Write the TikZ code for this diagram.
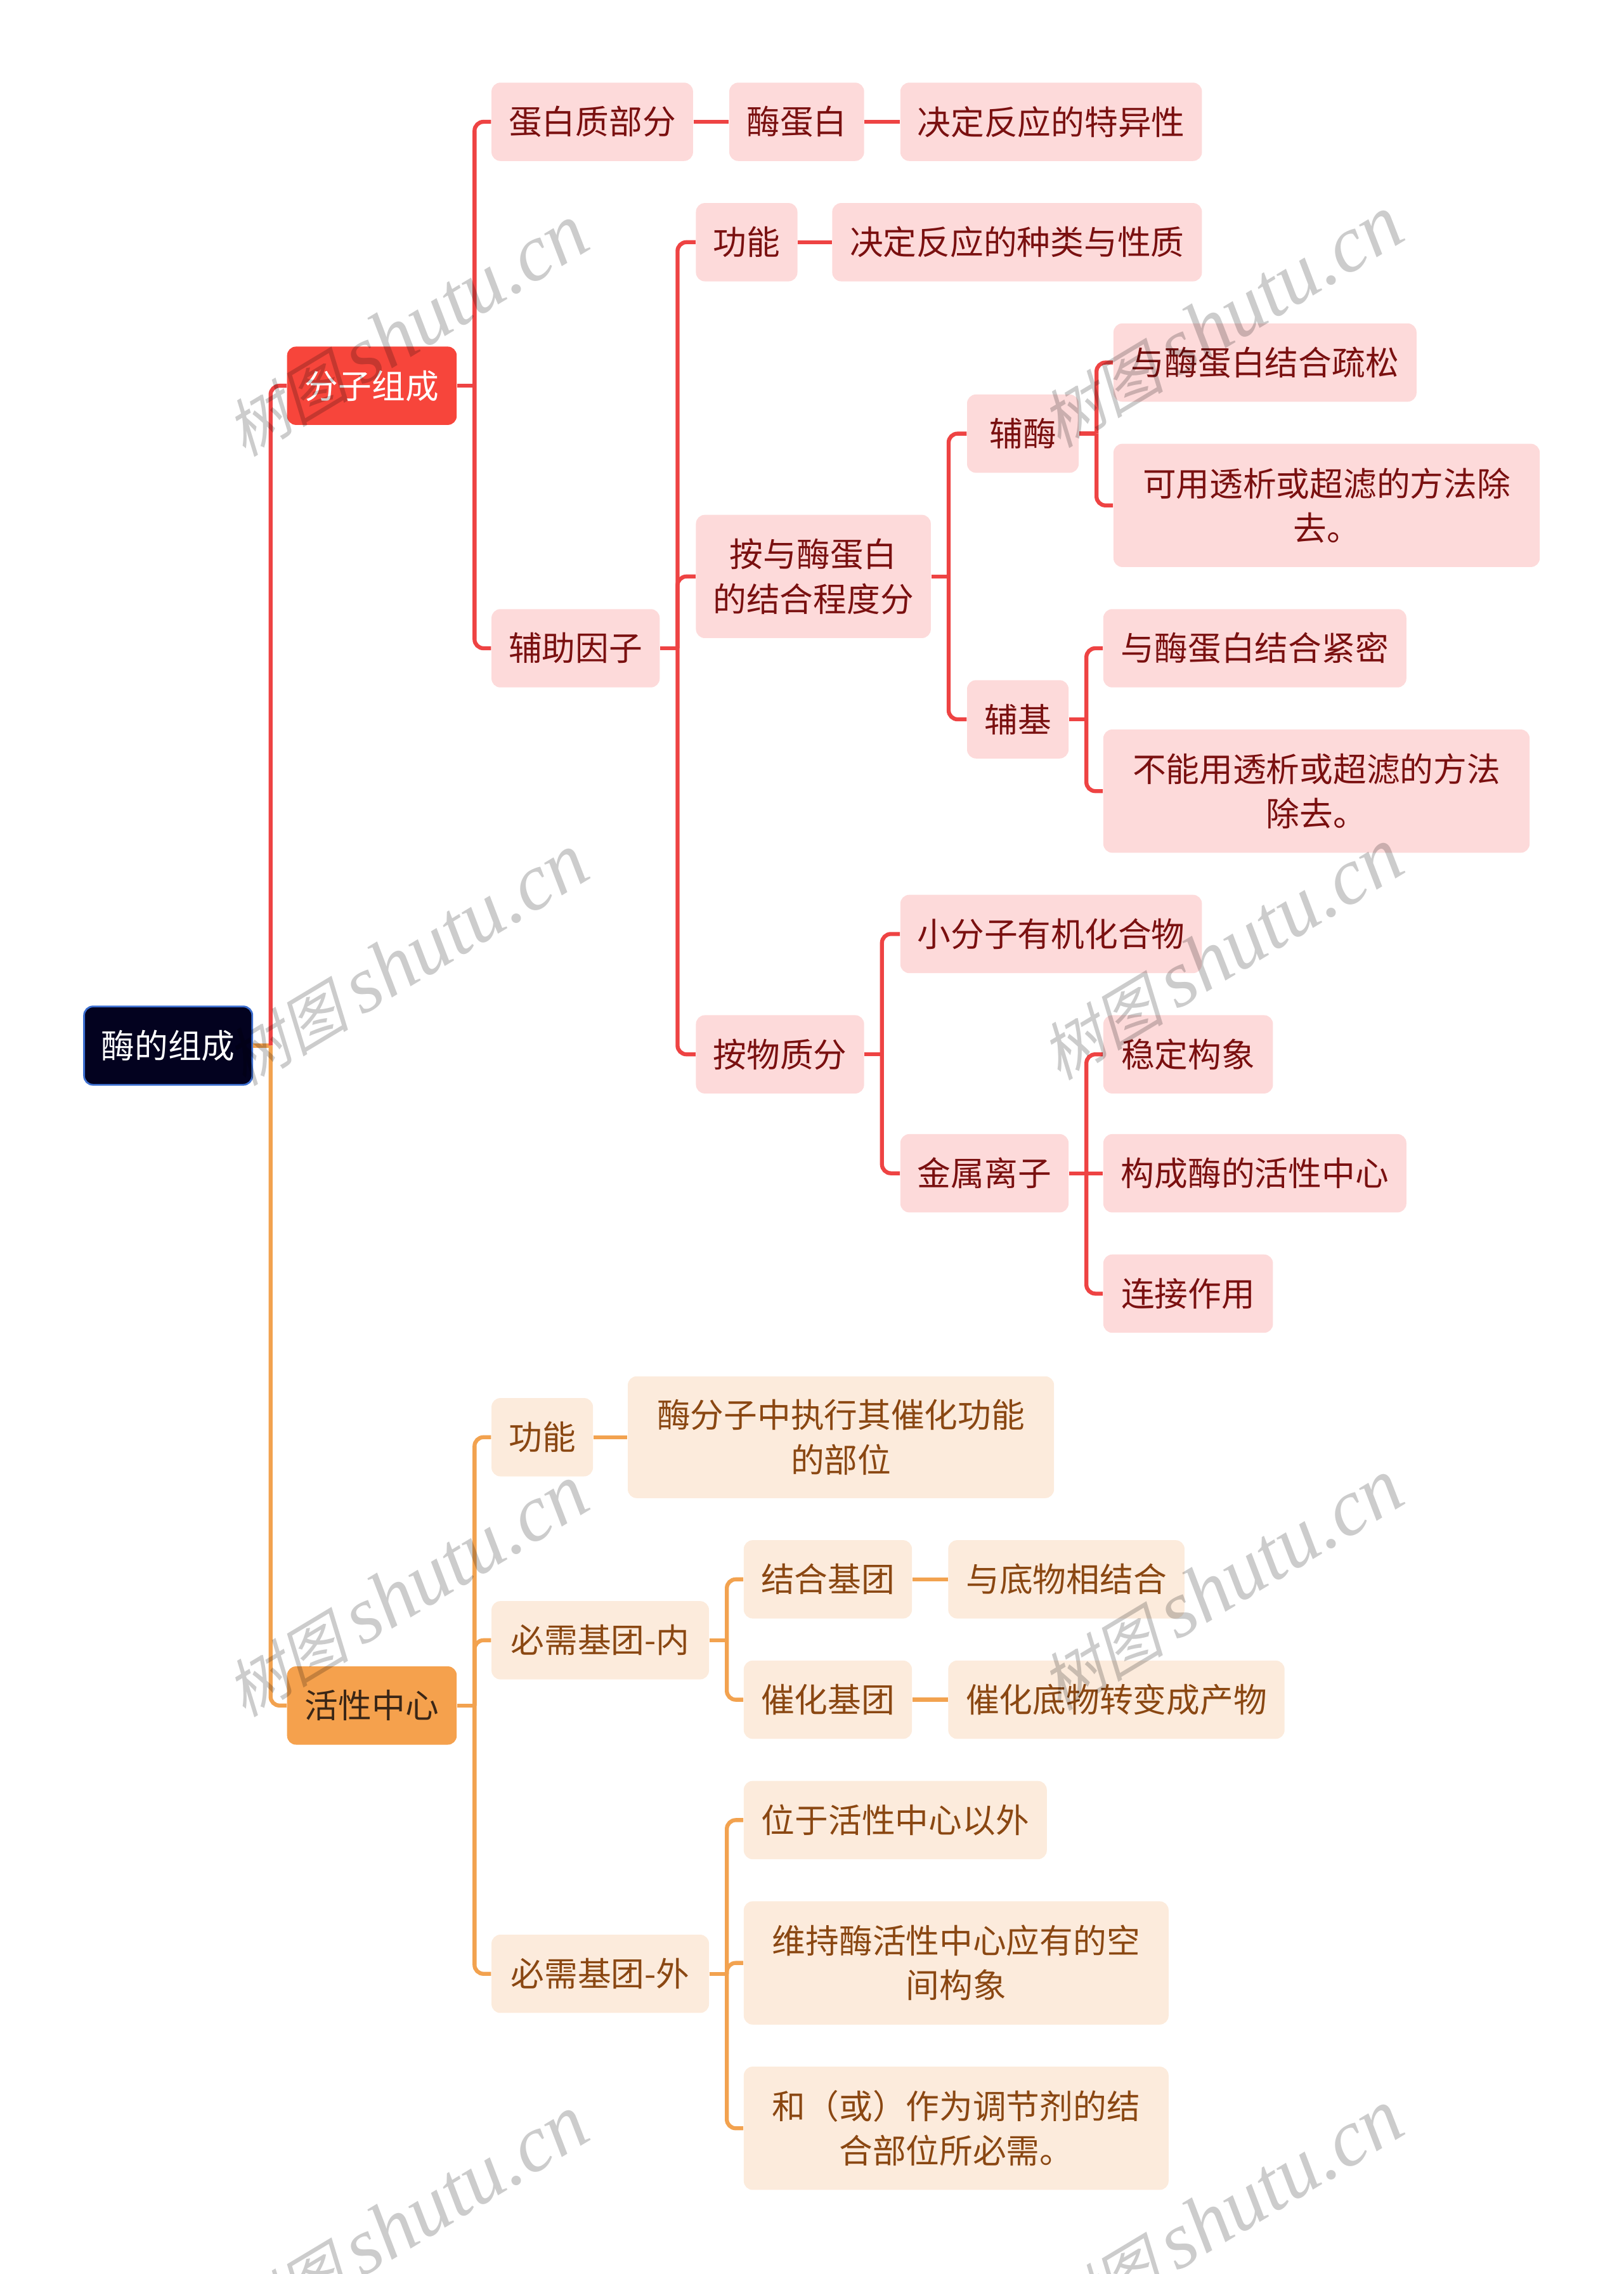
\documentclass[tikz,border=0pt]{standalone}
\usepackage{fontspec}
\setmainfont{Noto Sans CJK SC}
\newfontfamily\wmlat{Liberation Serif}
\newfontfamily\wmcjk[FakeSlant=0.25]{Noto Sans CJK SC}
\definecolor{rootfill}{HTML}{03021F}
\definecolor{rootbd}{HTML}{3C6FD0}
\definecolor{lred}{HTML}{F7453B}
\definecolor{lorg}{HTML}{F5A14D}
\definecolor{lorgtext}{HTML}{3A2616}
\definecolor{rfill}{HTML}{FDDADA}
\definecolor{rtext}{HTML}{7A1010}
\definecolor{ofill}{HTML}{FCEBDC}
\definecolor{otext}{HTML}{8A4712}
\definecolor{rline}{HTML}{EE4343}
\definecolor{oline}{HTML}{F2A24F}
\newcommand\nd[7]{\node[#1,minimum width={(#4-#2)*0.022857cm},minimum height={(#5-#3)*0.022857cm}] (#6) at ({(#2+#4)/2},{(#3+#5)/2}) {#7};}
\newcommand\stub[2]{\draw[#1] (#2.east) -- ++(12,0);}
\newcommand\kid[3]{\draw[#1] (#2.east) ++(12,0) |- (#3.west);}
\begin{document}
\begin{tikzpicture}[x=0.022857cm,y=-0.022857cm,
  box/.style={rounded corners=4pt, inner sep=0pt, align=center, font=\fontsize{15pt}{20pt}\selectfont},
  rootbox/.style={box, fill=rootfill, draw=rootbd, line width=0.8pt, text=white},
  redone/.style={box, fill=lred, text=white},
  orgone/.style={box, fill=lorg, text=lorgtext},
  rb/.style={box, fill=rfill, text=rtext},
  ob/.style={box, fill=ofill, text=otext},
  cr/.style={draw=rline, line width=1.8pt, rounded corners=4pt},
  co/.style={draw=oline, line width=1.8pt, rounded corners=4pt},
  wm/.style={text=black, opacity=0.2, inner sep=0pt, rotate=31}]
\useasboundingbox (0,0) rectangle (1120,1568);
% nodes
\nd{rootbox}{58}{694}{174}{748}{root}{酶的组成}
\nd{redone}{198}{239}{315}{293}{fz}{分子组成}
\nd{orgone}{198}{1149}{315}{1203}{hx}{活性中心}
\nd{rb}{339}{57}{478}{111}{dbz}{蛋白质部分}
\nd{rb}{503}{57}{596}{111}{mdb}{酶蛋白}
\nd{rb}{621}{57}{829}{111}{jdt}{决定反应的特异性}
\nd{rb}{339}{420}{455}{474}{fzyz}{辅助因子}
\nd{rb}{480}{140}{550}{194}{gna}{功能}
\nd{rb}{574}{140}{829}{194}{jdz}{决定反应的种类与性质}
\nd{rb}{480}{355}{642}{440}{ayc}{按与酶蛋白\\的结合程度分}
\nd{rb}{667}{272}{744}{326}{fm}{辅酶}
\nd{rb}{768}{223}{977}{277}{ss}{与酶蛋白结合疏松}
\nd{rb}{768}{306}{1062}{391}{ky}{可用透析或超滤的方法除\\去。}
\nd{rb}{667}{469}{737}{523}{fj}{辅基}
\nd{rb}{761}{420}{970}{474}{jm}{与酶蛋白结合紧密}
\nd{rb}{761}{503}{1055}{588}{bn}{不能用透析或超滤的方法\\除去。}
\nd{rb}{480}{700}{596}{754}{awz}{按物质分}
\nd{rb}{621}{617}{829}{671}{xfz}{小分子有机化合物}
\nd{rb}{621}{782}{737}{836}{jslz}{金属离子}
\nd{rb}{761}{700}{878}{754}{wd}{稳定构象}
\nd{rb}{761}{782}{970}{836}{gc}{构成酶的活性中心}
\nd{rb}{761}{865}{878}{919}{lj}{连接作用}
\nd{ob}{339}{964}{409}{1018}{gnb}{功能}
\nd{ob}{433}{949}{727}{1033}{mfz}{酶分子中执行其催化功能\\的部位}
\nd{ob}{339}{1104}{489}{1158}{bxn}{必需基团-内}
\nd{ob}{513}{1062}{629}{1116}{jhj}{结合基团}
\nd{ob}{654}{1062}{817}{1116}{ydw}{与底物相结合}
\nd{ob}{513}{1145}{629}{1199}{chj}{催化基团}
\nd{ob}{654}{1145}{886}{1199}{chd}{催化底物转变成产物}
\nd{ob}{339}{1334}{489}{1388}{bxw}{必需基团-外}
\nd{ob}{513}{1228}{722}{1282}{wy}{位于活性中心以外}
\nd{ob}{513}{1311}{806}{1396}{wc}{维持酶活性中心应有的空\\间构象}
\nd{ob}{513}{1425}{806}{1510}{hh}{和（或）作为调节剂的结\\合部位所必需。}
% connectors
\stub{co}{root}
\kid{cr}{root}{fz}
\kid{co}{root}{hx}
\stub{cr}{fz}
\kid{cr}{fz}{dbz}
\kid{cr}{fz}{fzyz}
\draw[cr] (dbz.east) -- (mdb.west);
\draw[cr] (mdb.east) -- (jdt.west);
\stub{cr}{fzyz}
\kid{cr}{fzyz}{gna}
\kid{cr}{fzyz}{ayc}
\kid{cr}{fzyz}{awz}
\draw[cr] (gna.east) -- (jdz.west);
\stub{cr}{ayc}
\kid{cr}{ayc}{fm}
\kid{cr}{ayc}{fj}
\stub{cr}{fm}
\kid{cr}{fm}{ss}
\kid{cr}{fm}{ky}
\stub{cr}{fj}
\kid{cr}{fj}{jm}
\kid{cr}{fj}{bn}
\stub{cr}{awz}
\kid{cr}{awz}{xfz}
\kid{cr}{awz}{jslz}
\stub{cr}{jslz}
\kid{cr}{jslz}{wd}
\draw[cr] (jslz.east) -- (gc.west);
\kid{cr}{jslz}{lj}
\stub{co}{hx}
\kid{co}{hx}{gnb}
\kid{co}{hx}{bxn}
\kid{co}{hx}{bxw}
\draw[co] (gnb.east) -- (mfz.west);
\stub{co}{bxn}
\kid{co}{bxn}{jhj}
\kid{co}{bxn}{chj}
\draw[co] (jhj.east) -- (ydw.west);
\draw[co] (chj.east) -- (chd.west);
\stub{co}{bxw}
\kid{co}{bxw}{wy}
\kid{co}{bxw}{wc}
\kid{co}{bxw}{hh}
% watermarks
\foreach \wx/\wy [count=\i] in {280/228,842/222,280/662,842/658,280/1097,842/1093,280/1532,842/1528}{
  \node[wm] (wm\i) at (\wx,\wy) {{\wmcjk\fontsize{28pt}{30pt}\selectfont 树图}\hspace{6pt}{\wmlat\itshape\fontsize{36pt}{38pt}\selectfont shutu.cn}};
}
\end{tikzpicture}
\end{document}
